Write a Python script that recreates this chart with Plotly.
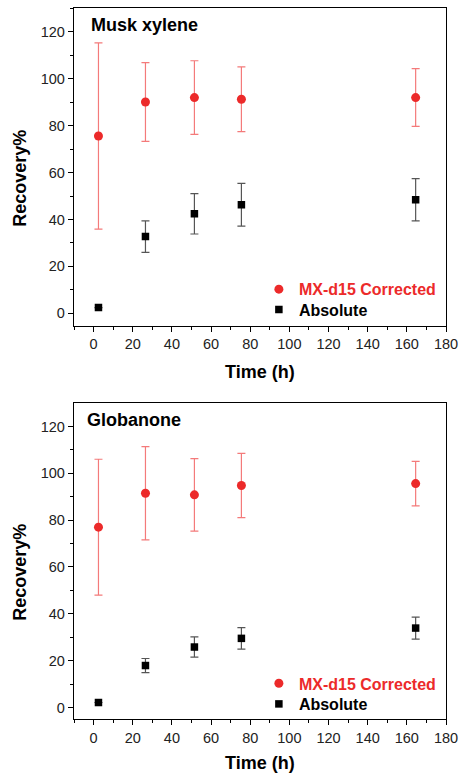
import plotly.graph_objects as go

# ---- data ----
time_h = [2.5, 26.5, 51.5, 75.5, 164.5]

mx_corr = [75.6, 90.1, 92.0, 91.3, 92.0]
mx_corr_err = [39.7, 16.8, 15.7, 13.8, 12.3]
mx_abs = [2.4, 32.7, 42.4, 46.3, 48.4]
mx_abs_err = [0.0, 6.7, 8.6, 9.1, 9.0]

gl_corr = [77.0, 91.5, 90.8, 94.8, 95.6]
gl_corr_err = [29.0, 19.9, 15.5, 13.7, 9.5]
gl_abs = [2.1, 17.9, 25.8, 29.5, 33.9]
gl_abs_err = [0.0, 3.0, 4.3, 4.6, 4.7]

panel_titles = ["Musk xylene", "Globanone"]
legend_names = ["MX-d15 Corrected", "Absolute"]

RED = "#ec2a2a"
RED_ERR = "#f47a7a"
BLK = "#000000"
BLK_ERR = "#555555"
FONT = "Liberation Sans, Arial, sans-serif"

fig = go.Figure()

panels = [
    (mx_corr, mx_corr_err, mx_abs, mx_abs_err, "x", "y", "legend", "legend2"),
    (gl_corr, gl_corr_err, gl_abs, gl_abs_err, "x2", "y2", "legend3", "legend4"),
]
for corr, corr_err, ab, ab_err, xa, ya, lg1, lg2 in panels:
    fig.add_trace(go.Scatter(
        x=time_h, y=corr, mode="markers", xaxis=xa, yaxis=ya, legend=lg1,
        name=f"<span style='color:{RED}'>{legend_names[0]}</span>",
        marker=dict(symbol="circle", size=9, color=RED),
        error_y=dict(type="data", array=corr_err, visible=True,
                     color=RED_ERR, thickness=1.2, width=4),
    ))
    fig.add_trace(go.Scatter(
        x=time_h, y=ab, mode="markers", xaxis=xa, yaxis=ya, legend=lg2,
        name=legend_names[1],
        marker=dict(symbol="square", size=7.5, color=BLK),
        error_y=dict(type="data", array=ab_err, visible=True,
                     color=BLK_ERR, thickness=1.2, width=4),
    ))

xcommon = dict(
    range=[-10, 180], dtick=20, tick0=0, ticks="outside", ticklen=5,
    tickwidth=1.2, tickcolor="#000", showline=True, linecolor="#000",
    linewidth=1.3, mirror=True, showgrid=False, zeroline=False,
    tickfont=dict(family=FONT, size=14.5, color="#222"),
    minor=dict(dtick=10, tick0=0, ticks="outside", ticklen=3,
               tickwidth=1.1, tickcolor="#000", showgrid=False),
)
ycommon = dict(
    tickvals=[0, 20, 40, 60, 80, 100, 120], ticks="outside",
    ticklen=5, tickwidth=1.2, tickcolor="#000", showline=True,
    linecolor="#000", linewidth=1.3, mirror=True, showgrid=False,
    zeroline=False, tickfont=dict(family=FONT, size=14.5, color="#222"),
    minor=dict(dtick=10, tick0=0, ticks="outside", ticklen=3,
               tickwidth=1.1, tickcolor="#000", showgrid=False),
)

leg_font = dict(family=FONT, size=16, color="#000", weight="bold")


def leg(y):
    return dict(x=0.497, y=y, xanchor="left", yanchor="middle",
                bgcolor="rgba(0,0,0,0)", font=leg_font)


fig.update_layout(
    width=465, height=774,
    margin=dict(l=74, r=13, t=7, b=55),
    paper_bgcolor="white", plot_bgcolor="white",
    font=dict(family=FONT, color="#000"),
    xaxis=dict(**xcommon, domain=[0, 1], anchor="y"),
    yaxis=dict(**ycommon, range=[-5.24, 130.2], domain=[0.5534, 1], anchor="x"),
    xaxis2=dict(**xcommon, domain=[0, 1], anchor="y2"),
    yaxis2=dict(**ycommon, range=[-4.94, 129.95], domain=[0, 0.4442], anchor="x2"),
    legend=leg(0.6044),
    legend2=leg(0.5758),
    legend3=leg(0.0501),
    legend4=leg(0.0211),
    showlegend=True,
)

ann = []
# panel titles
ann.append(dict(text=f"<b>{panel_titles[0]}</b>", xref="x domain", yref="y domain",
                x=0.04, y=0.9456, xanchor="left", yanchor="middle",
                showarrow=False, font=dict(family=FONT, size=18, color="#000")))
ann.append(dict(text=f"<b>{panel_titles[1]}</b>", xref="x2 domain", yref="y2 domain",
                x=0.03, y=0.9476, xanchor="left", yanchor="middle",
                showarrow=False, font=dict(family=FONT, size=18, color="#000")))
# axis titles
for yy in [0.761, 0.2069]:
    ann.append(dict(text="<b>Recovery%</b>", xref="paper", yref="paper",
                    x=-0.1455, y=yy, xanchor="center", yanchor="middle",
                    textangle=-90, showarrow=False,
                    font=dict(family=FONT, size=18, color="#000")))
for yy in [0.4878, -0.0625]:
    ann.append(dict(text="<b>Time (h)</b>", xref="paper", yref="paper",
                    x=0.5, y=yy, xanchor="center", yanchor="middle",
                    showarrow=False, font=dict(family=FONT, size=18, color="#000")))
fig.update_layout(annotations=ann)

fig.write_html(
    "out.html",
    config={"displayModeBar": False},
    post_script="document.body.style.margin='0';document.body.style.overflow='hidden';",
)
